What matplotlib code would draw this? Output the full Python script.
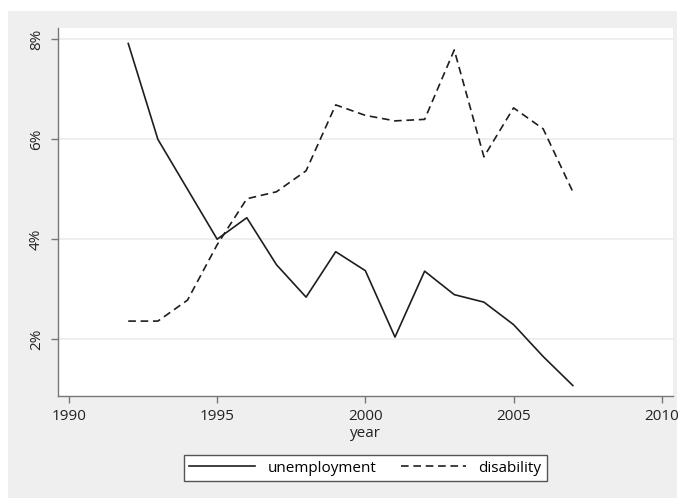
import matplotlib
matplotlib.use("Agg")
import matplotlib.pyplot as plt
from matplotlib.patches import Rectangle
from matplotlib.ticker import FuncFormatter

plt.rcParams['font.family'] = ['Open Sans', 'DejaVu Sans']
plt.rcParams['lines.scale_dashes'] = False

# values (percent)
years = [1992, 1993, 1994, 1995, 1996, 1997, 1998, 1999, 2000,
         2001, 2002, 2003, 2004, 2005, 2006, 2007]
unemployment = [7.92, 6.00, 5.00, 4.00, 4.43, 3.49, 2.84, 3.75, 3.37,
                2.04, 3.36, 2.89, 2.74, 2.29, 1.65, 1.07]
disability = [2.36, 2.36, 2.78, 3.89, 4.81, 4.95, 5.37, 6.69, 6.48,
              6.37, 6.40, 7.79, 5.65, 6.63, 6.21, 4.95]
xticks = [1990, 1995, 2000, 2005, 2010]
yticks = [2, 4, 6, 8]

W, H = 678, 501
FS = 11
fig = plt.figure(figsize=(W / 100, H / 100), dpi=100, facecolor='white')
# grey graph region
fig.patches.append(Rectangle((8 / W, 1 - 498 / H), (677 - 8) / W, (498 - 11) / H,
                             transform=fig.transFigure, facecolor='#efefef',
                             edgecolor='none', zorder=-10))

ax = fig.add_axes([58 / W, 1 - 396 / H, (673 - 58) / W, (396 - 28) / H])
ax.set_zorder(1)
ax.set_facecolor('white')

ax.plot(years, unemployment, color='#1e1e1e', lw=1.2, label='unemployment')
ax.plot(years, disability, color='#1e1e1e', lw=1.2, dashes=(5.5, 3.4), label='disability')

ax.set_xlim(1989.63, 2010.38)
ax.set_ylim(0.86, 8.23)
ax.set_xticks(xticks)
ax.set_yticks(yticks)
ax.yaxis.set_major_formatter(FuncFormatter(lambda v, p: '%d%%' % v))
ax.grid(axis='y', color='#ebebeb', lw=1.2)
ax.set_axisbelow(True)

for s in ['top', 'right']:
    ax.spines[s].set_visible(False)
for s in ['left', 'bottom']:
    ax.spines[s].set_color('#777777')
    ax.spines[s].set_linewidth(1.0)
ax.tick_params(colors='#777777', length=5, width=1.0, labelcolor='#222222', labelsize=FS)
ax.tick_params(axis='x', pad=4)
ax.tick_params(axis='y', pad=5)
for lab in ax.get_yticklabels():
    lab.set_rotation(90)
    lab.set_va('center')

ax.set_xlabel('year', fontsize=FS, color='#222222', labelpad=1.5)

handles, labels = ax.get_legend_handles_labels()
leg = fig.legend(handles, labels, loc='center', ncol=2,
                 bbox_to_anchor=(365.5 / W, 1 - 468 / H), fontsize=FS,
                 handlelength=4.3, columnspacing=1.6, fancybox=False,
                 framealpha=1, edgecolor='#555555', borderpad=0.35)
leg.get_frame().set_linewidth(1.0)
leg.set_zorder(2)

fig.savefig('out.png', dpi=100, facecolor='white')
